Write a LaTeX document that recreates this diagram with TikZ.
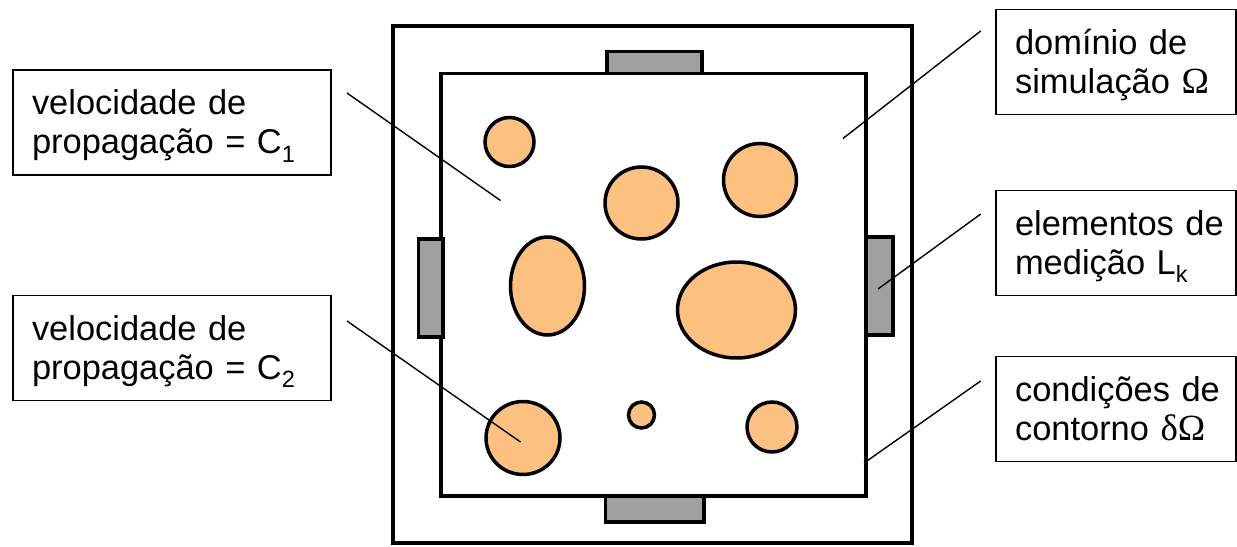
\documentclass[tikz,border=0pt]{standalone}
\usepackage{fontspec}
\setmainfont{Liberation Sans}
\newfontfamily\grk{Liberation Serif}
\definecolor{blob}{RGB}{253,193,127}
\definecolor{probe}{RGB}{160,160,160}
\newcommand\sttop{\rule{0pt}{0.64cm}}
\newcommand\stbot{\rule[-0.16cm]{0pt}{0.16cm}}
\newcommand\lowsub[1]{\raisebox{-0.24em}{\fontsize{13.4}{13.4}\selectfont #1}}
\begin{document}
\begin{tikzpicture}[x=0.02cm,y=-0.02cm,
  frame/.style={draw=black,line width=2pt,fill=white},
  probebox/.style={draw=black,line width=1.8pt,fill=probe},
  blobshape/.style={draw=black,line width=2pt,fill=blob},
  labelbox/.style={draw=black,line width=0.8pt,fill=white,align=left,
    inner xsep=0.38cm,inner ysep=0pt,minimum height=2.1cm,
    font=\fontsize{19.6}{22.2}\selectfont},
  leftbox/.style={labelbox,text width=5.6cm},
  rightbox/.style={labelbox,text width=4.04cm},
  leader/.style={draw=black,line width=0.8pt}]
\useasboundingbox (0,0) rectangle (1237,547);

% outer boundary and simulation domain
\draw[frame] (393,26) rectangle (912,543);
\draw[frame] (441,73.5) rectangle (866,496);

% measurement elements
\draw[probebox] (607,51.8) rectangle (702,73.5);
\draw[probebox] (605.5,496) rectangle (704,522);
\draw[probebox] (418.6,239) rectangle (443,337);
\draw[probebox] (866,237) rectangle (893,335);

% inclusions
\draw[blobshape] (509.5,142) ellipse [x radius=0.49cm, y radius=0.49cm];
\draw[blobshape] (641.5,203) ellipse [x radius=0.73cm, y radius=0.72cm];
\draw[blobshape] (760,180) ellipse [x radius=0.73cm, y radius=0.73cm];
\draw[blobshape] (547.5,286) ellipse [x radius=0.74cm, y radius=0.98cm];
\draw[blobshape] (736.5,310) ellipse [x radius=1.18cm, y radius=0.96cm];
\draw[blobshape] (523,438) ellipse [x radius=0.74cm, y radius=0.73cm];
\draw[blobshape] (641.5,415) ellipse [x radius=0.26cm, y radius=0.26cm];
\draw[blobshape] (772,427) ellipse [x radius=0.5cm, y radius=0.5cm];

% labels
\node[leftbox] (c1) at (172,122.5) {\sttop velocidade~de\\propagação~=~C\lowsub{1}\stbot};
\node[leftbox] (c2) at (172,348) {\sttop velocidade~de\\propagação~=~C\lowsub{2}\stbot};
\node[rightbox] (dom) at (1116,62) {\sttop domínio~de\\simulação~{\grk\fontsize{21}{22.2}\selectfont Ω}\stbot};
\node[rightbox] (med) at (1116,243) {\sttop elementos~de\\medição~L\lowsub{k}\stbot};
\node[rightbox] (cont) at (1116,409) {\sttop condições~de\\contorno~{\grk\fontsize{21}{22.2}\selectfont δΩ}\stbot};

% leader line end points
\coordinate (c1s) at (347,93);
\coordinate (c1e) at (500.5,200.5);
\coordinate (c2s) at (347,321);
\coordinate (c2e) at (520.5,442);
\coordinate (doms) at (980.7,31);
\coordinate (dome) at (843,138.5);
\coordinate (meds) at (980.7,214);
\coordinate (mede) at (878,289);
\coordinate (conts) at (980.7,381);
\coordinate (conte) at (864,463);

\draw[leader] (c1s) -- (c1e);
\draw[leader] (c2s) -- (c2e);
\draw[leader] (doms) -- (dome);
\draw[leader] (meds) -- (mede);
\draw[leader] (conts) -- (conte);
\end{tikzpicture}
\end{document}
